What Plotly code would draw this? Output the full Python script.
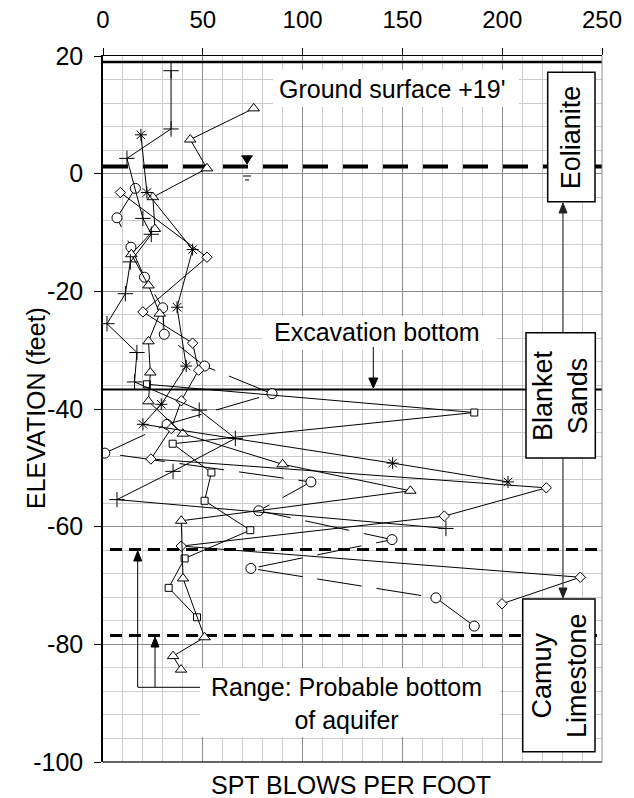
import plotly.graph_objects as go

# ---------------- data: SPT blows per foot vs elevation (feet) ----------------
plus_spt  = [34.1, 34.1, 12.0, 20.0, 24.2, 13.7, 11.2, 2.0, 17.0, 15.8, 48.2, 66.3, 35.1, 7.0, 171.8]
plus_elev = [17.5, 7.6, 2.6, -7.6, -10.3, -15.0, -20.4, -25.5, -30.4, -35.4, -40.2, -45.0, -50.6, -55.4, -60.3]

star_spt  = [19.0, 22.0, 44.9, 37.1, 41.7, 29.2, 20.0, 145.1, 202.9]
star_elev = [6.6, -3.2, -12.9, -22.7, -32.7, -39.2, -42.6, -49.2, -52.4]

tri_spt  = [75.5, 43.7, 52.1, 25.0, 26.0, 14.2, 22.8, 28.4, 22.8, 23.7, 22.8, 40.0, 90.0, 154.0, 39.2, 40.1, 50.9, 35.1, 39.1]
tri_elev = [11.1, 5.8, 0.9, -4.0, -9.4, -13.7, -19.0, -23.8, -28.5, -33.8, -38.7, -44.2, -49.4, -53.9, -59.0, -68.8, -78.8, -82.0, -84.3]

sq_spt  = [22.0, 186.0, 34.9, 54.3, 50.9, 73.8, 40.9, 32.9, 47.1]
sq_elev = [-35.8, -40.6, -45.9, -50.8, -55.6, -60.6, -65.4, -70.4, -75.4]

dia_spt  = [8.7, 52.1, 20.0, 44.9, 47.9, 39.2, 34.2, 24.0, 222.1, 171.0, 39.2, 239.1, 199.9]
dia_elev = [-3.2, -14.2, -23.5, -28.8, -33.4, -38.6, -43.3, -48.5, -53.4, -58.2, -63.3, -68.6, -73.1]

circ_spt  = [16.2, 7.0, 14.0, 20.8, 29.9, 30.7, 50.9, 84.7, 32.1, 0.9, 104.2, 78.0, 144.8, 74.1, 166.8, 186.0]
circ_elev = [-2.5, -7.5, -12.5, -17.6, -22.8, -27.3, -32.7, -37.4, -42.6, -47.5, -52.4, -57.3, -62.2, -67.1, -72.1, -76.9]

# reference elevations (feet)
ground_elev = 19.0
water_elev = 1.2
excav_elev = -36.7
aquifer_elevs = [-63.9, -78.5]

x_ticks = [0, 50, 100, 150, 200, 250]
y_ticks = [20, 0, -20, -40, -60, -80, -100]

# ---------------- layout helpers (page pixel -> axis coordinates) ----------------
OFF = 0                      # body margin removed by post_script below
W, H = 634 - OFF, 798 - OFF
ML, MR, MT, MB = 103 - OFF, 32, 56 - OFF, 36
XMIN, XMAX = 0, 250
YMIN, YMAX = -100, 20
PW = W - ML - MR
PH = H - MT - MB


def xd(px):
    return XMIN + (px - OFF - ML) / PW * (XMAX - XMIN)


def yd(py):
    return YMAX - (py - OFF - MT) / PH * (YMAX - YMIN)


def xp(px):
    return (px - OFF - ML) / PW


def yp(py):
    return (H - MB - (py - OFF)) / PH


FONT = "Liberation Sans, Arial, sans-serif"
BLACK = "black"

fig = go.Figure()


def add_series(x, y, symbol, size, dash="solid", fill="white"):
    line_only = symbol.endswith("-open") and ("cross" in symbol or "asterisk" in symbol)
    fig.add_trace(go.Scatter(
        x=x, y=y, mode="lines+markers",
        line=dict(color=BLACK, width=1, dash=dash),
        marker=dict(symbol=symbol, size=size,
                    color=BLACK if line_only else fill,
                    line=dict(color=BLACK, width=1)),
        hoverinfo="x+y", showlegend=False,
    ))


add_series(circ_spt, circ_elev, "circle", 10, dash="45px,15px")
add_series(dia_spt, dia_elev, "diamond", 8)
add_series(sq_spt, sq_elev, "square", 7)
add_series(tri_spt, tri_elev, "triangle-up", 10)
add_series(star_spt, star_elev, "asterisk-open", 10)
add_series(plus_spt, plus_elev, "cross-thin-open", 11)

shapes = []

# horizontal reference lines (between grid and data)
shapes.append(dict(type="line", layer="between", xref="x", yref="y", x0=XMIN, x1=XMAX,
                   y0=ground_elev, y1=ground_elev, line=dict(color=BLACK, width=2.5)))
shapes.append(dict(type="line", layer="between", xref="x", yref="y", x0=XMIN, x1=XMAX,
                   y0=water_elev, y1=water_elev, line=dict(color=BLACK, width=4, dash="25px,15px")))
shapes.append(dict(type="line", layer="between", xref="x", yref="y", x0=XMIN, x1=XMAX,
                   y0=excav_elev, y1=excav_elev, line=dict(color=BLACK, width=2)))
for e in aquifer_elevs:
    shapes.append(dict(type="line", layer="between", xref="x", yref="y", x0=xd(110), x1=XMAX,
                       y0=e, y1=e, line=dict(color=BLACK, width=3, dash="12px,7px")))

# white backgrounds behind free text
for (x0, x1, y0, y1) in [(273, 519, 70, 107), (262, 497, 316, 350), (200, 500, 668, 737)]:
    shapes.append(dict(type="rect", layer="between", xref="x", yref="y",
                       x0=xd(x0), x1=xd(x1), y0=yd(y0), y1=yd(y1),
                       fillcolor="white", line=dict(width=0)))

# outer frame: bottom black, right grey
shapes.append(dict(type="line", layer="above", xref="paper", yref="paper", x0=0, x1=1, y0=0, y1=0,
                   line=dict(color="#333333", width=1.5)))
shapes.append(dict(type="line", layer="above", xref="paper", yref="paper", x0=1, x1=1, y0=0, y1=1,
                   line=dict(color="#8c8c8c", width=1)))


def vline(px, py0, py1, color=BLACK, width=1):
    shapes.append(dict(type="line", layer="above", xref="x", yref="y",
                       x0=xd(px), x1=xd(px), y0=yd(py0), y1=yd(py1),
                       line=dict(color=color, width=width)))


def head(px, tip, base, half=4, color=BLACK):
    p = "M {},{} L {},{} L {},{} Z".format(xd(px), yd(tip), xd(px - half), yd(base), xd(px + half), yd(base))
    shapes.append(dict(type="path", layer="above", xref="x", yref="y", path=p,
                       fillcolor=color, line=dict(color=color, width=1)))


# excavation arrow
vline(373.3, 347, 380)
head(373.3, 388, 378, 4.5)

# formation arrow (double headed)
vline(563, 210, 590, color="#444444", width=1.2)
head(563, 203, 213, 4, "#222222")
head(563, 598, 588, 4, "#222222")

# range bracket
vline(137.7, 687, 560)
head(137.7, 551, 561, 4)
vline(155, 687, 646)
head(155, 637, 647, 4)
shapes.append(dict(type="line", layer="above", xref="x", yref="y",
                   x0=xd(137.7), x1=xd(200), y0=yd(687.3), y1=yd(687.3),
                   line=dict(color=BLACK, width=1)))

# water-table symbol
wt = "M {},{} L {},{} L {},{} Z".format(xd(242), yd(156), xd(252), yd(156), xd(247), yd(164))
shapes.append(dict(type="path", layer="above", xref="x", yref="y", path=wt,
                   fillcolor=BLACK, line=dict(color=BLACK, width=1)))
shapes.append(dict(type="line", layer="above", xref="x", yref="y",
                   x0=xd(241), x1=xd(253), y0=yd(156), y1=yd(156), line=dict(color=BLACK, width=1)))
shapes.append(dict(type="line", layer="above", xref="x", yref="y",
                   x0=xd(243), x1=xd(251), y0=yd(176), y1=yd(176), line=dict(color=BLACK, width=1)))
shapes.append(dict(type="line", layer="above", xref="x", yref="y",
                   x0=xd(245), x1=xd(249), y0=yd(180), y1=yd(180), line=dict(color=BLACK, width=1)))

# formation boxes
boxes = [(547.7, 595, 72.3, 201.7), (526, 595.3, 332.7, 458), (522.7, 595, 599, 751.7)]
for (x0, x1, y0, y1) in boxes:
    shapes.append(dict(type="rect", layer="above", xref="x", yref="y",
                       x0=xd(x0), x1=xd(x1), y0=yd(y0), y1=yd(y1),
                       fillcolor="white", line=dict(color=BLACK, width=1.5)))

annotations = []


def text(s, px, py, size=25, angle=0):
    annotations.append(dict(text=s, x=xd(px), y=yd(py), xref="x", yref="y",
                            showarrow=False, textangle=angle, xanchor="center", yanchor="middle",
                            font=dict(family=FONT, size=size, color=BLACK)))


text("Ground surface +19'", 391.5, 89)
text("Excavation bottom", 377, 332)
text("Range: Probable bottom<br>of aquifer", 346, 703)
text("Eolianite", 571.3, 137, 27, -90)
text("Blanket<br>Sands", 560.7, 395.3, 27, -90)
text("Camuy<br>Limestone", 558.8, 675.3, 27, -90)

annotations.append(dict(text="ELEVATION (feet)", xref="paper", yref="paper",
                        x=xp(36), y=yp(408), showarrow=False, textangle=-90,
                        xanchor="center", yanchor="middle",
                        font=dict(family=FONT, size=25, color=BLACK)))
annotations.append(dict(text="SPT BLOWS PER FOOT", xref="paper", yref="paper",
                        x=xp(351), y=yp(785), showarrow=False,
                        xanchor="center", yanchor="middle",
                        font=dict(family=FONT, size=25, color=BLACK)))

fig.update_layout(
    width=W, height=H,
    margin=dict(l=ML, r=MR, t=MT, b=MB, pad=0, autoexpand=False),
    paper_bgcolor="white", plot_bgcolor="white",
    showlegend=False,
    shapes=shapes, annotations=annotations,
    font=dict(family=FONT, size=25, color=BLACK),
    xaxis=dict(range=[XMIN, XMAX], side="top", tickmode="array", tickvals=x_ticks,
               ticktext=[str(v) for v in x_ticks], ticks="outside", ticklen=7, tickcolor=BLACK,
               showline=True, linecolor=BLACK, linewidth=1, showgrid=True, gridcolor="#8c8c8c",
               gridwidth=1, zeroline=False, ticklabelstandoff=10, automargin=False,
               tickfont=dict(family=FONT, size=24, color=BLACK),
               minor=dict(dtick=10, tick0=0, showgrid=True, gridcolor="#cccccc", gridwidth=1)),
    yaxis=dict(range=[YMIN, YMAX], tickmode="array", tickvals=y_ticks,
               ticktext=[str(v) for v in y_ticks], ticks="outside", ticklen=7, tickcolor=BLACK,
               showline=True, linecolor=BLACK, linewidth=1.5, showgrid=True, gridcolor="#8c8c8c",
               gridwidth=1, zeroline=False, ticklabelstandoff=6, automargin=False,
               tickfont=dict(family=FONT, size=25, color=BLACK),
               minor=dict(dtick=4, tick0=0, showgrid=True, gridcolor="#cccccc", gridwidth=1)),
)

fig.write_html("out.html", config={"displayModeBar": False},
               post_script="document.body.style.margin='0';document.body.style.padding='0';")
